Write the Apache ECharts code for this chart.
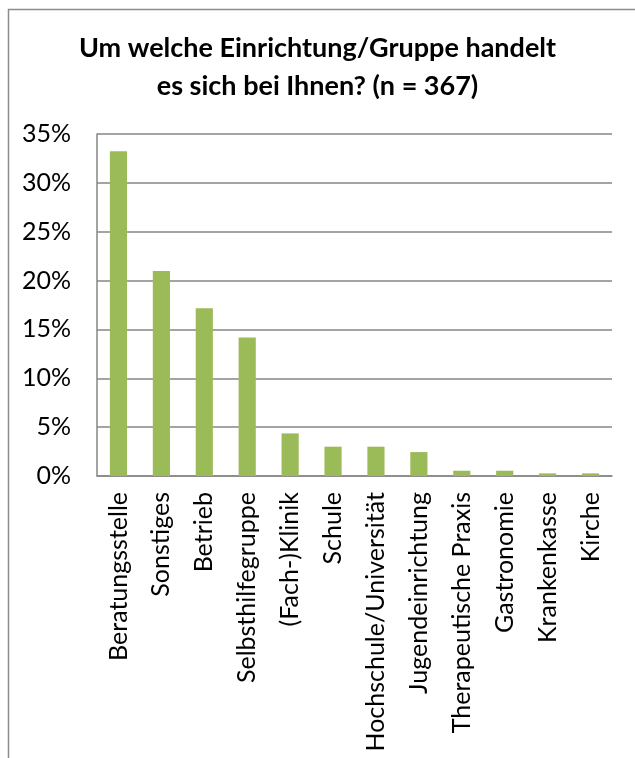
<!DOCTYPE html>
<html>
<head>
<meta charset="utf-8">
<script src="https://cdn.jsdelivr.net/npm/echarts@6/dist/echarts.min.js"></script>
<style>
  html, body { margin: 0; padding: 0; background: #fff; }
  #chart { width: 635px; height: 758px; }
</style>
</head>
<body>
<div id="chart"></div>
<script>
// Anteile in Prozent (n = 367)
var categories = ["Beratungsstelle", "Sonstiges", "Betrieb", "Selbsthilfegruppe", "(Fach-)Klinik", "Schule",
  "Hochschule/Universität", "Jugendeinrichtung", "Therapeutische Praxis", "Gastronomie", "Krankenkasse", "Kirche"];
var shares = [33.24, 20.98, 17.17, 14.17, 4.36, 3.0, 3.0, 2.45, 0.54, 0.54, 0.27, 0.27];
var titleLines = ["Um welche Einrichtung/Gruppe handelt", "es sich bei Ihnen? (n = 367)"];

var font = "Lato, 'Open Sans', sans-serif";
var chart = echarts.init(document.getElementById("chart"));
chart.setOption({
  animation: false,
  graphic: [{
    type: "rect",
    shape: { x: 8.5, y: 9.5, width: 700, height: 800 },
    style: { fill: "none", stroke: "#8c8c8c", lineWidth: 1.5 },
    silent: true
  }],
  title: {
    text: titleLines.join("\n"),
    left: "center",
    top: 24,
    textStyle: { fontFamily: font, fontSize: 27, fontWeight: "bold", color: "#000", lineHeight: 38 }
  },
  grid: { left: 97, right: 23, top: 134, bottom: 282, containLabel: false },
  xAxis: {
    type: "category",
    data: categories,
    axisLine: { lineStyle: { color: "#868686", width: 1.5 } },
    axisTick: { show: false },
    axisLabel: {
      rotate: 90,
      interval: 0,
      margin: 16,
      color: "#000",
      fontFamily: font,
      fontSize: 25
    }
  },
  yAxis: {
    type: "value",
    min: 0,
    max: 35,
    interval: 5,
    axisLine: { show: true, lineStyle: { color: "#868686", width: 1.5 } },
    axisTick: { show: false },
    splitLine: { lineStyle: { color: "#868686", width: 1.5 } },
    axisLabel: {
      formatter: "{value}%",
      margin: 26,
      color: "#000",
      fontFamily: font,
      fontSize: 25
    }
  },
  series: [{
    type: "bar",
    data: shares,
    barWidth: "40%",
    itemStyle: { color: "#9bbb59" }
  }]
});
</script>
</body>
</html>
